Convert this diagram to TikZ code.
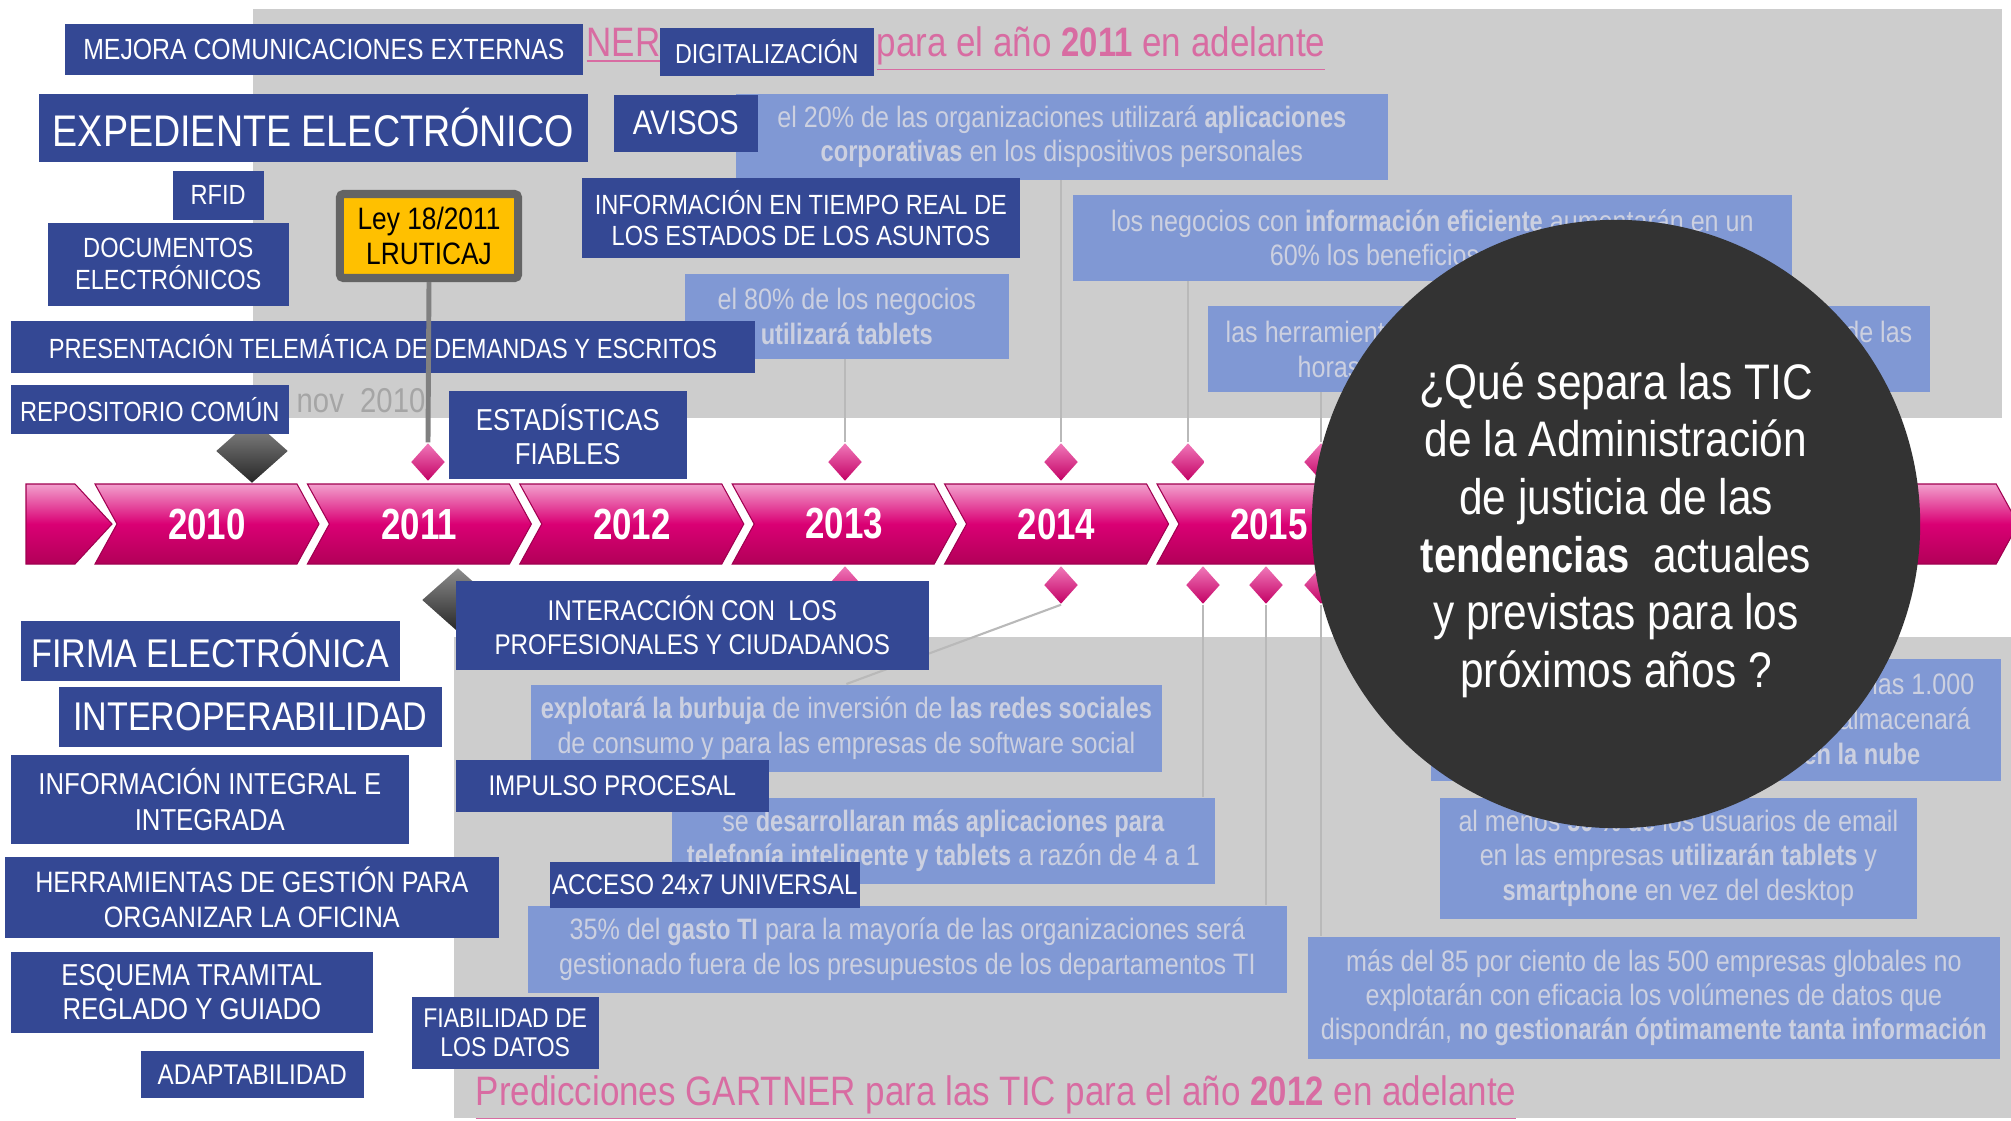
\documentclass[tikz,border=0pt]{standalone}
\usepackage{fontspec}
\setmainfont{Liberation Sans}[FakeStretch=0.85, BoldFeatures={FakeStretch=0.8}]
\usetikzlibrary{shapes.geometric}

\definecolor{labelblue}{RGB}{52,72,148}
\definecolor{panelgray}{RGB}{205,205,205}
\definecolor{predfill}{RGB}{128,152,212}
\definecolor{predtext}{RGB}{204,208,224}
\definecolor{titlepink}{RGB}{216,108,162}
\definecolor{barlight}{RGB}{242,160,205}
\definecolor{barmid}{RGB}{218,0,116}
\definecolor{bardark}{RGB}{178,0,88}
\definecolor{baredge}{RGB}{160,0,80}
\definecolor{dialight}{RGB}{240,120,185}
\definecolor{diadark}{RGB}{195,0,100}
\definecolor{signyellow}{RGB}{255,192,0}
\definecolor{signgray}{RGB}{100,100,100}
\definecolor{postgray}{RGB}{128,128,128}
\definecolor{connline}{RGB}{185,185,185}
\definecolor{circlegray}{RGB}{51,51,51}
\definecolor{novgray}{RGB}{165,165,165}

\begin{document}
\begin{tikzpicture}[x=0.01cm, y=-0.01cm,
    lbl/.style={rectangle, fill=labelblue, text=white, inner sep=0pt, align=center, anchor=north west},
    pred/.style={rectangle, fill=predfill, text=predtext, inner sep=0pt, align=center, anchor=north west, font=\fontsize{8.4}{9.8}\selectfont},
    predline/.style={text=predtext, inner sep=0pt, font=\fontsize{8.4}{9.8}\selectfont},
    pinkdia/.style={diamond, inner sep=0pt, minimum width=0.34cm, minimum height=0.38cm, top color=dialight, bottom color=diadark},
    darkdia/.style={diamond, inner sep=0pt, minimum width=0.72cm, minimum height=0.64cm, top color=black!45, bottom color=black!85},
    conn/.style={draw=connline, line width=0.6pt},
    poste/.style={draw=postgray, line width=1.4pt},
    chev/.style={draw=baredge, line width=0.3pt, top color=barlight, bottom color=bardark, middle color=barmid},
    gtitle/.style={text=titlepink, inner sep=0pt, anchor=base west, font=\fontsize{11.7}{14}\selectfont}]
    \useasboundingbox (0,0) rectangle (2011,1120);

    % Panels and titles
    \fill[panelgray] (253,9) rectangle (2002,418);
    \fill[panelgray] (454,637) rectangle (2011,1118);
    \node[gtitle] (titulo11a) at (586,56) {\underline{NER}};
    \node[gtitle] (titulo11b) at (876,56) {\underline{para el año \textbf{2011} en adelante}};
    \node[gtitle] (titulo12) at (475,1105) {\underline{Predicciones GARTNER para las TIC para el año \textbf{2012} en adelante}};

    % Predictions
    \node[pred, minimum width=6.52cm, minimum height=0.86cm] (p1) at (735,93) {el 20\% de las organizaciones utilizará \textbf{aplicaciones}\\\textbf{corporativas} en los dispositivos personales};
    \node[pred, minimum width=7.19cm, minimum height=0.86cm] (p2) at (1072,194) {los negocios con \textbf{información eficiente} aumentarán en un\\60\% los beneficios obtenidos};
    \node[pred, minimum width=3.24cm, minimum height=0.85cm] (p3) at (684,273) {el 80\% de los negocios\\\textbf{utilizará tablets}};
    \node[pred, minimum width=7.22cm, minimum height=0.86cm] (p4) at (1207,305) {};
    \node[predline, anchor=west] (p4a) at (1225,332) {las herramientas};
    \node[predline, anchor=east] (p4b) at (1913,332) {de las};
    \node[predline, anchor=west] (p4c) at (1297,367) {horas};
    \node[pred, minimum width=6.31cm, minimum height=0.87cm] (p5) at (530,684) {\textbf{explotará la burbuja} de inversión de \textbf{las redes sociales}\\de consumo y para las empresas de software social};
    \node[pred, minimum width=5.43cm, minimum height=0.86cm] (p6) at (671,797) {se \textbf{desarrollaran más aplicaciones para}\\\textbf{telefonía inteligente y tablets} a razón de 4 a 1};
    \node[pred, minimum width=7.59cm, minimum height=0.87cm] (p7) at (527,905) {35\% del \textbf{gasto TI} para la mayoría de las organizaciones será\\gestionado fuera de los presupuestos de los departamentos TI};
    \node[pred, minimum width=5.70cm, minimum height=1.22cm] (p8) at (1430,658) {};
    \node[predline, anchor=east] (p8a) at (1975,684) {las 1.000};
    \node[predline, anchor=east] (p8b) at (1971,719) {almacenará};
    \node[predline, anchor=east] (p8c) at (1921,754) {\textbf{en la nube}};
    \node[pred, minimum width=4.77cm, minimum height=1.21cm] (p9) at (1439,797) {al menos \textbf{50 \% de} los usuarios de email\\en las empresas \textbf{utilizarán tablets} y\\\textbf{smartphone} en vez del desktop};
    \node[pred, minimum width=6.92cm, minimum height=1.22cm] (p10) at (1307,936) {más del 85 por ciento de las 500 empresas globales no\\explotarán con eficacia los volúmenes de datos que\\dispondrán, \textbf{no gestionarán óptimamente tanta información}};

    % Timeline
    \path[chev] (26,484) -- (75,484) -- (112,524) -- (75,564) -- (26,564) -- cycle;
    \foreach \i in {0,...,8} {
        \pgfmathsetmacro{\s}{95+212.4*\i}
        \path[chev] (\s,484) -- ++(202,0) -- ++(22,40) -- ++(-22,40) -- ++(-202,0) -- ++(22,-40) -- cycle;
    }
    \foreach \yr [count=\i from 0] in {2010,...,2015}
        \node[text=white, inner sep=0pt, font=\bfseries\fontsize{12.4}{14}\selectfont] (a\yr) at ({207+212.4*\i},524) {\yr};

    % Milestones
    \foreach \x [count=\i] in {428,845,1061,1188,1321}
        \node[pinkdia] (arr\i) at (\x,462) {};
    \foreach \x [count=\i] in {845,1061,1203,1266,1321}
        \node[pinkdia] (aba\i) at (\x,585) {};
    \node[darkdia] (hito10) at (252,451) {};
    \node[darkdia] (hito11) at (458,600) {};

    \draw[conn] (arr2.north) -- (arr2.north |- p3.south);
    \draw[conn] (arr3.north) -- (arr3.north |- p1.south);
    \draw[conn] (arr4.north) -- (arr4.north |- p2.south);
    \draw[conn] (arr5.north) -- (arr5.north |- p4.south);
    \draw[conn] (aba2.south) -- (p5.north);
    \draw[conn] (aba3.south) -- (aba3.south |- p6.north);
    \draw[conn] (aba4.south) -- (aba4.south |- p7.north);
    \draw[conn] (aba5.south) -- (aba5.south |- p10.north);

    % Place labels
    \node[lbl, minimum width=5.18cm, minimum height=0.51cm, font=\fontsize{8.3}{9.5}\selectfont] (mejora) at (64,23) {MEJORA COMUNICACIONES EXTERNAS};
    \node[lbl, minimum width=2.14cm, minimum height=0.48cm, font=\fontsize{7.8}{9}\selectfont] (digital) at (659,27) {DIGITALIZACIÓN};
    \node[lbl, minimum width=5.49cm, minimum height=0.68cm, font=\fontsize{12.6}{14}\selectfont] (expediente) at (38,93) {EXPEDIENTE ELECTRÓNICO};
    \node[lbl, minimum width=1.44cm, minimum height=0.57cm, font=\fontsize{9.7}{11}\selectfont] (avisos) at (613,94) {AVISOS};
    \node[lbl, minimum width=0.91cm, minimum height=0.49cm, font=\fontsize{7.9}{9}\selectfont] (rfid) at (172,170) {RFID};
    \node[lbl, minimum width=2.41cm, minimum height=0.83cm, font=\fontsize{7.9}{9.1}\selectfont] (documentos) at (47,222) {DOCUMENTOS\\ELECTRÓNICOS};
    \node[lbl, minimum width=4.38cm, minimum height=0.80cm, font=\fontsize{7.9}{8.8}\selectfont] (tiemporeal) at (581,177) {INFORMACIÓN EN TIEMPO REAL DE\\LOS ESTADOS DE LOS ASUNTOS};
    \node[lbl, minimum width=7.44cm, minimum height=0.52cm, font=\fontsize{7.9}{9}\selectfont] (presentacion) at (10,320) {PRESENTACIÓN TELEMÁTICA DE DEMANDAS Y ESCRITOS};
    \node[lbl, minimum width=2.78cm, minimum height=0.49cm, font=\fontsize{7.9}{9}\selectfont] (repositorio) at (10,384) {REPOSITORIO COMÚN};
    \node[text=novgray, inner sep=0pt, anchor=west, font=\fontsize{9.8}{11}\selectfont] (nov) at (296,401) {nov\ \ 2010};
    \node[lbl, minimum width=2.38cm, minimum height=0.88cm, font=\fontsize{8.6}{9.8}\selectfont] (estadisticas) at (448,390) {ESTADÍSTICAS\\FIABLES};
    \node[lbl, minimum width=4.73cm, minimum height=0.89cm, font=\fontsize{8.1}{9.8}\selectfont] (interaccion) at (455,580) {INTERACCIÓN CON\ \ LOS\\PROFESIONALES Y CIUDADANOS};
    \node[lbl, minimum width=3.79cm, minimum height=0.60cm, font=\fontsize{11.4}{13}\selectfont] (firma) at (20,620) {FIRMA ELECTRÓNICA};
    \node[lbl, minimum width=3.83cm, minimum height=0.60cm, font=\fontsize{11.4}{13}\selectfont] (interop) at (58,686) {INTEROPERABILIDAD};
    \node[lbl, minimum width=3.98cm, minimum height=0.89cm, font=\fontsize{8.6}{10.2}\selectfont] (integral) at (10,754) {INFORMACIÓN INTEGRAL E\\INTEGRADA};
    \node[lbl, minimum width=3.13cm, minimum height=0.52cm, font=\fontsize{8.1}{9}\selectfont] (impulso) at (455,759) {IMPULSO PROCESAL};
    \node[lbl, minimum width=4.94cm, minimum height=0.81cm, font=\fontsize{8.4}{9.8}\selectfont] (herramientas) at (4,856) {HERRAMIENTAS DE GESTIÓN PARA\\ORGANIZAR LA OFICINA};
    \node[lbl, minimum width=3.10cm, minimum height=0.46cm, font=\fontsize{8.1}{9}\selectfont] (acceso) at (549,861) {ACCESO 24x7 UNIVERSAL};
    \node[lbl, minimum width=3.62cm, minimum height=0.81cm, font=\fontsize{8.6}{9.8}\selectfont] (esquema) at (10,951) {ESQUEMA TRAMITAL\\REGLADO Y GUIADO};
    \node[lbl, minimum width=1.87cm, minimum height=0.72cm, font=\fontsize{7.7}{8.4}\selectfont] (fiabilidad) at (411,996) {FIABILIDAD DE\\LOS DATOS};
    \node[lbl, minimum width=2.23cm, minimum height=0.47cm, font=\fontsize{8.1}{9}\selectfont] (adaptabilidad) at (140,1050) {ADAPTABILIDAD};

    % Ley sign
    \node[rectangle, draw=signgray, line width=2.3pt, fill=signyellow, rounded corners=1pt, minimum width=1.78cm, minimum height=0.84cm, inner sep=0pt, align=center, font=\fontsize{8.8}{9.8}\selectfont] (ley) at (429,236) {Ley 18/2011\\LRUTICAJ};
    \draw[poste] (ley.south) -- (arr1.north);

    % Question
    \node[circle, fill=circlegray, minimum size=6.08cm, inner sep=0pt] (pregunta) at (1616,524) {};
    \node[text=white, inner sep=0pt, align=center, font=\fontsize{14.2}{16.4}\selectfont] (preguntatxt) at (1616,530) {¿Qué separa las TIC\\de la Administración\\de justicia de las\\\textbf{tendencias}\ \ actuales\\y previstas para los\\próximos años ?};
\end{tikzpicture}
\end{document}
